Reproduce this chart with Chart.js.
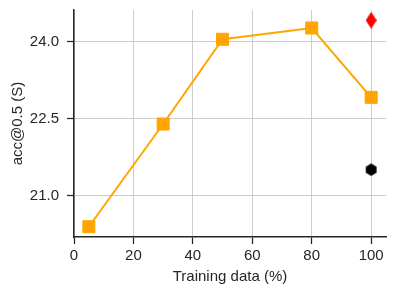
<!DOCTYPE html>
<html>
<head>
<meta charset="utf-8">
<script src="https://cdn.jsdelivr.net/npm/chart.js@4"></script>
<style>
  html, body { margin:0; padding:0; background:#fff; }
  #wrap { width:396px; height:296px; }
</style>
</head>
<body>
<div id="wrap"><canvas id="c" width="396" height="296"></canvas></div>
<script>
// data
const trainPct = [5, 30, 50, 80, 100];
const accS = [20.40, 22.40, 24.05, 24.27, 22.92];
const redX = [100], redY = [24.42];
const blackX = [100], blackY = [21.51];
const xTicks = [0, 20, 40, 60, 80, 100];
const yTicks = [21.0, 22.5, 24.0];

const ink = '#262626';
const FONT = 'Liberation Sans, Arial, sans-serif';

// marker glyphs
function diamond(){
  const c = document.createElement('canvas'); c.width = 11; c.height = 17;
  const g = c.getContext('2d');
  g.fillStyle = '#ff0000';
  g.beginPath(); g.moveTo(5.5,0); g.lineTo(11,8.5); g.lineTo(5.5,17); g.lineTo(0,8.5); g.closePath(); g.fill();
  return c;
}
function hexagon(){
  const c = document.createElement('canvas'); c.width = 13; c.height = 13;
  const g = c.getContext('2d');
  g.fillStyle = '#000';
  g.beginPath();
  for(let i=0;i<6;i++){
    const a = -Math.PI/2 + i*Math.PI/3;
    const px = 6.5 + 6.2*Math.cos(a), py = 6.5 + 6.2*Math.sin(a);
    i ? g.lineTo(px,py) : g.moveTo(px,py);
  }
  g.closePath(); g.fill();
  return c;
}

const pts = (xs, ys) => xs.map((x,i)=>({x, y:ys[i]}));

new Chart(document.getElementById('c'), {
  type: 'scatter',
  data: {
    datasets: [
      { data: pts(trainPct, accS), showLine:true, borderColor:'#ffa500', backgroundColor:'#ffa500',
        borderWidth:2, pointStyle:'rect', pointRadius:8.5, pointBorderWidth:1, pointHoverRadius:8.5 },
      { data: pts(redX, redY), pointStyle: diamond(), pointRadius:8 },
      { data: pts(blackX, blackY), pointStyle: hexagon(), pointRadius:6 }
    ]
  },
  options: {
    responsive:false, animation:false,
    layout:{ padding:{ top:10, right:10, left:0, bottom:0 } },
    plugins:{ legend:{display:false}, tooltip:{enabled:false} },
    scales:{
      x:{
        type:'linear', min:0, max:105,
        afterBuildTicks: s => { s.ticks = xTicks.map(v=>({value:v})); },
        afterFit: s => { s.height = 59; },
        grid:{ color:'#cccccc', lineWidth:1, tickColor:ink, tickLength:7, tickWidth:1.25 },
        border:{ color:ink, width:1.5 },
        ticks:{ color:ink, font:{family:FONT, size:15}, padding:3, maxRotation:0, callback:v=>String(v) },
        title:{ display:true, text:'Training data (%)', color:ink, font:{family:FONT, size:15}, padding:{top:0, bottom:10} }
      },
      y:{
        type:'linear', min:20.2, max:24.62,
        afterBuildTicks: s => { s.ticks = yTicks.map(v=>({value:v})); },
        afterFit: s => { s.width = 74; s.paddingTop = 0; s.paddingBottom = 0; },
        grid:{ color:'#cccccc', lineWidth:1, tickColor:ink, tickLength:7, tickWidth:1.25 },
        border:{ color:ink, width:1.5 },
        ticks:{ color:ink, font:{family:FONT, size:15}, padding:8, callback:v=>v.toFixed(1) },
        title:{ display:true, text:'acc@0.5 (S)', color:ink, font:{family:FONT, size:15}, padding:{top:9, bottom:0} }
      }
    }
  }
});
</script>
</body>
</html>
